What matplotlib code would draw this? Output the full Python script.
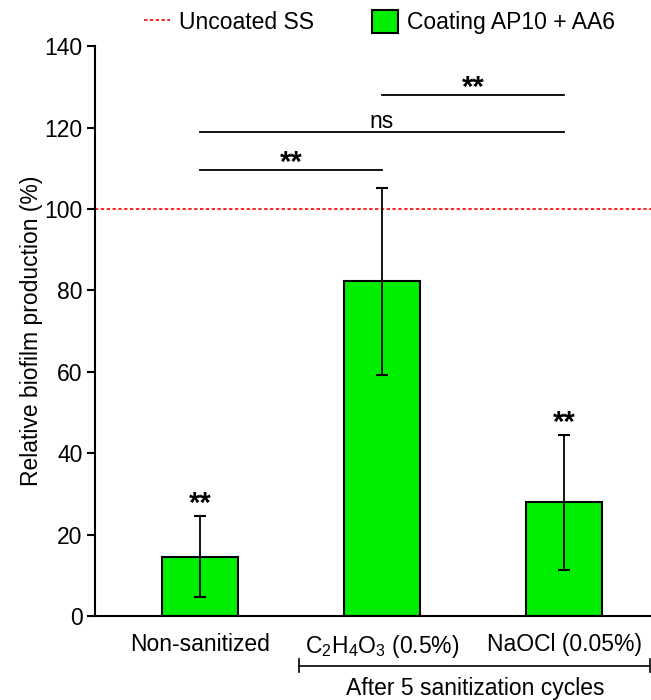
import matplotlib
matplotlib.use('Agg')
import matplotlib.pyplot as plt
from matplotlib.lines import Line2D
from matplotlib.patches import Patch

plt.rcParams['font.family'] = ['Liberation Sans', 'DejaVu Sans']
plt.rcParams['mathtext.fontset'] = 'custom'
plt.rcParams['mathtext.rm'] = 'Liberation Sans'
plt.rcParams['mathtext.it'] = 'Liberation Sans'

# 数据
categories = ['Non-sanitized', 'C$_2$H$_4$O$_3$ (0.5%)', 'NaOCl (0.05%)']
values = [14.6, 82.2, 27.9]
errors = [10.0, 23.0, 16.6]
bar_stars = ['**', '', '**']
uncoated_ref = 100
# 显著性比较: (左, 右, 高度, 标签)
comparisons = [(0, 1, 109.6, '**'), (0, 2, 118.9, 'ns'), (1, 2, 128.0, '**')]
group_label = 'After 5 sanitization cycles'

FS = 16.5

fig = plt.figure(figsize=(6.51, 7.0), dpi=100)
ax = fig.add_axes([0.146, 0.12, 0.854, 0.814])

x = list(range(len(categories)))
ax.bar(x, values, width=0.42, color='#00ee00', edgecolor='black', linewidth=1.5, zorder=2)
ax.errorbar(x, values, yerr=errors, fmt='none', ecolor='black', elinewidth=1.3,
            capsize=4.5, capthick=1.5, zorder=3)
ax.axhline(uncoated_ref, color='red', linestyle=(0, (2, 1.5)), linewidth=1.2, zorder=1)

for xi, v, e, s in zip(x, values, errors, bar_stars):
    if s:
        ax.text(xi, v + e + 1.0, s, ha='center', va='baseline', fontsize=21,
                fontweight='bold')

for a, b, h, lab in comparisons:
    ax.plot([a, b], [h, h], color='black', linewidth=1.3)
    if lab == '**':
        ax.text((a + b) / 2, h - 0.2, lab, ha='center', va='baseline', fontsize=21,
                fontweight='bold')
    else:
        ax.text((a + b) / 2, h + 0.9, lab, ha='center', va='baseline', fontsize=FS)

ax.set_xlim(-0.577, 2.478)
ax.set_ylim(0, 140)
ax.set_yticks(range(0, 141, 20))
ax.set_xticks(x)
ax.set_xticklabels(categories)
ax.tick_params(axis='x', length=0, pad=12, labelsize=FS)
ax.tick_params(axis='y', length=6, width=1.5, labelsize=FS, pad=3)
ax.set_ylabel('Relative biofilm production (%)', fontsize=FS, labelpad=1)
for side in ['top', 'right']:
    ax.spines[side].set_visible(False)
for side in ['left', 'bottom']:
    ax.spines[side].set_linewidth(1.5)

# 底部分组括号
ya = -0.087
ax.plot([0.545, 2.47], [ya, ya], transform=ax.get_xaxis_transform(), color='black',
        linewidth=1.2, clip_on=False)
for xe in [0.545, 2.47]:
    ax.plot([xe, xe], [ya - 0.012, ya + 0.012], transform=ax.get_xaxis_transform(),
            color='black', linewidth=1.2, clip_on=False)
ax.text(1.51, -0.107, group_label, transform=ax.get_xaxis_transform(),
        ha='center', va='top', fontsize=FS)

handles = [Line2D([0], [0], color='red', linestyle=(0, (2, 1.5)), linewidth=1.2),
           Patch(facecolor='#00ee00', edgecolor='black', linewidth=1.5)]
fig.legend(handles, ['Uncoated SS', 'Coating AP10 + AA6'], loc='center',
           bbox_to_anchor=(0.583, 0.968), ncol=2, frameon=False, fontsize=FS,
           handlelength=1.15, handleheight=1.15, columnspacing=2.5, handletextpad=0.4,
           borderpad=0)

fig.savefig('out.png', dpi=100)
